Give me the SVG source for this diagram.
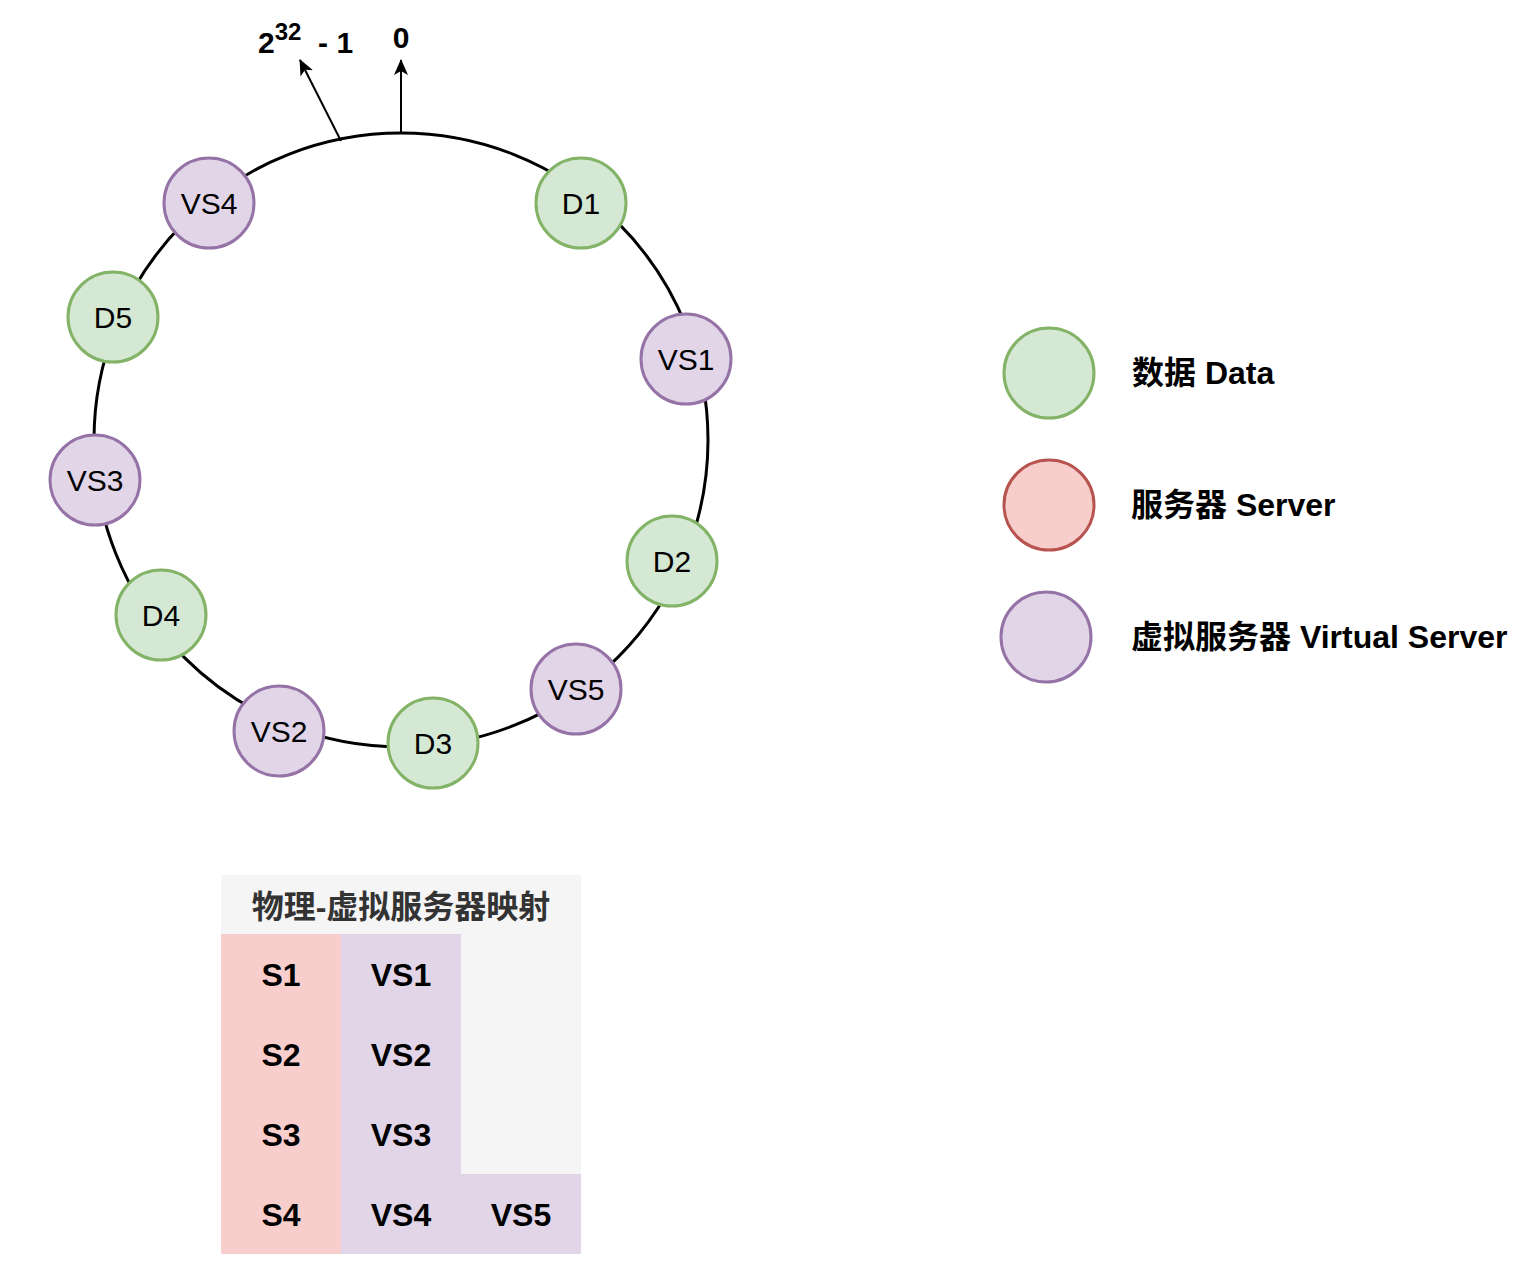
<svg xmlns="http://www.w3.org/2000/svg" width="1530" height="1266" viewBox="0 0 1530 1266">
<style>
.g{fill:#d5e8d4;stroke:#82b366;stroke-width:3}
.r{fill:#f8cecc;stroke:#b85450;stroke-width:3}
.p{fill:#e1d5e7;stroke:#9673a6;stroke-width:3}
.nt{font-family:"Liberation Sans",Arial,sans-serif;font-size:30px;text-anchor:middle;dominant-baseline:central;fill:#000}
.lt{font-family:"Liberation Sans","Noto Sans CJK SC",sans-serif;font-size:32px;font-weight:bold;fill:#000;dominant-baseline:central}
.tt{font-family:"Liberation Sans","Noto Sans CJK SC",sans-serif;font-size:32px;font-weight:bold;text-anchor:middle;dominant-baseline:central}
.ln{stroke:#000;stroke-width:2;fill:none}
</style>
<defs>
<marker id="ah" viewBox="0 0 16 14" refX="15" refY="7" markerWidth="16" markerHeight="14" markerUnits="userSpaceOnUse" orient="auto">
<path d="M0,0 L16,7 L0,14 L4,7 Z" fill="#000"/>
</marker>
</defs>
<rect width="1530" height="1266" fill="#fff"/>
<g id="ring"><circle cx="401" cy="440" r="307" fill="none" stroke="#000" stroke-width="3"/></g>
<g id="connectors">
<line class="ln" x1="401" y1="133" x2="401" y2="60" marker-end="url(#ah)"/>
<line class="ln" x1="341" y1="141" x2="300" y2="60" marker-end="url(#ah)"/>
</g>
<g id="labels-top">
<text x="258" y="53" font-family="Liberation Sans,Arial,sans-serif" font-size="30" font-weight="bold">2<tspan font-size="24" dy="-13">32</tspan><tspan dy="13" xml:space="preserve">  - 1</tspan></text>
<text x="401" y="48" font-family="Liberation Sans,Arial,sans-serif" font-size="30" font-weight="bold" text-anchor="middle">0</text>
</g>
<g id="D1"><circle class="g" cx="581" cy="203" r="45"/><text class="nt" x="581" y="203">D1</text></g>
<g id="VS1"><circle class="p" cx="686" cy="359" r="45"/><text class="nt" x="686" y="359">VS1</text></g>
<g id="D2"><circle class="g" cx="672" cy="561" r="45"/><text class="nt" x="672" y="561">D2</text></g>
<g id="VS5"><circle class="p" cx="576" cy="689" r="45"/><text class="nt" x="576" y="689">VS5</text></g>
<g id="D3"><circle class="g" cx="433" cy="743" r="45"/><text class="nt" x="433" y="743">D3</text></g>
<g id="VS2"><circle class="p" cx="279" cy="731" r="45"/><text class="nt" x="279" y="731">VS2</text></g>
<g id="D4"><circle class="g" cx="161" cy="615" r="45"/><text class="nt" x="161" y="615">D4</text></g>
<g id="VS3"><circle class="p" cx="95" cy="480" r="45"/><text class="nt" x="95" y="480">VS3</text></g>
<g id="D5"><circle class="g" cx="113" cy="317" r="45"/><text class="nt" x="113" y="317">D5</text></g>
<g id="VS4"><circle class="p" cx="209" cy="203" r="45"/><text class="nt" x="209" y="203">VS4</text></g>
<g id="legend-data"><circle class="g" cx="1049" cy="373" r="45"/><text class="lt" x="1132" y="373">数据 Data</text></g>
<g id="legend-server"><circle class="r" cx="1049" cy="505" r="45"/><text class="lt" x="1131" y="505">服务器 Server</text></g>
<g id="legend-vs"><circle class="p" cx="1046" cy="637" r="45"/><text class="lt" x="1131" y="637">虚拟服务器 Virtual Server</text></g>
<g id="table">
<rect x="221" y="875" width="360" height="379" fill="#f5f5f5"/>
<text class="tt" x="401" y="907" fill="#333" font-size="34">物理-虚拟服务器映射</text>
<rect x="221" y="934" width="120" height="320" fill="#f8cecc"/>
<rect x="341" y="934" width="120" height="320" fill="#e1d5e7"/>
<rect x="461" y="1174" width="120" height="80" fill="#e1d5e7"/>
<text class="tt" x="281" y="975">S1</text>
<text class="tt" x="401" y="975">VS1</text>
<text class="tt" x="281" y="1055">S2</text>
<text class="tt" x="401" y="1055">VS2</text>
<text class="tt" x="281" y="1135">S3</text>
<text class="tt" x="401" y="1135">VS3</text>
<text class="tt" x="281" y="1215">S4</text>
<text class="tt" x="401" y="1215">VS4</text>
<text class="tt" x="521" y="1215">VS5</text>
</g>
</svg>
